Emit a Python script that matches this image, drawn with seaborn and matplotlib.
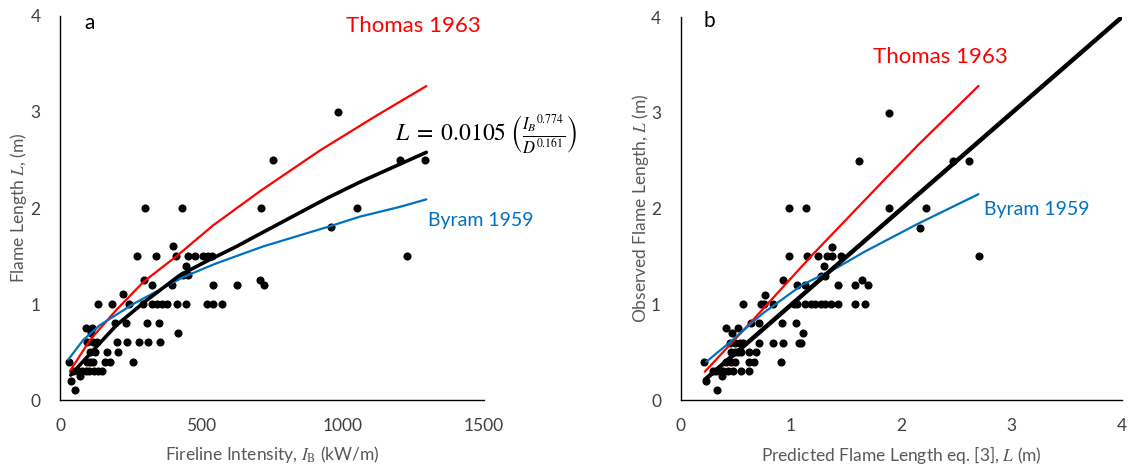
import matplotlib
matplotlib.use('Agg')
import matplotlib.pyplot as plt
import seaborn as sns
import pandas as pd

# ---------------- data ----------------
# Panel a: observed flame length vs fireline intensity
a_obs_x = [32, 40, 54, 71,
           47, 62, 77, 92, 104, 120, 136, 149,
           94, 106, 118, 159, 177, 259,
           106, 124, 165, 206,
           97, 118, 130, 200, 236, 281, 312, 354,
           110, 416,
           92, 112,
           196, 233, 307, 351,
           133, 183, 245, 295, 324, 342, 360, 377, 413, 446, 519, 542, 572,
           224,
           324, 395, 540, 625, 722,
           298, 706,
           436, 454,
           446,
           271, 340, 410, 452, 479, 507, 523, 539, 1228,
           400,
           958,
           301, 433, 710, 1051,
           752, 1203, 1292,
           983]
a_obs_y = [0.4, 0.2, 0.1, 0.25,
           0.3, 0.3, 0.3, 0.3, 0.3, 0.3, 0.3, 0.3,
           0.4, 0.4, 0.4, 0.4, 0.4, 0.4,
           0.5, 0.5, 0.5, 0.5,
           0.6, 0.6, 0.6, 0.6, 0.6, 0.6, 0.6, 0.6,
           0.7, 0.7,
           0.75, 0.75,
           0.8, 0.8, 0.8, 0.8,
           1.0, 1.0, 1.0, 1.0, 1.0, 1.0, 1.0, 1.0, 1.0, 1.0, 1.0, 1.0, 1.0,
           1.1,
           1.2, 1.2, 1.2, 1.2, 1.2,
           1.25, 1.25,
           1.3, 1.3,
           1.4,
           1.5, 1.5, 1.5, 1.5, 1.5, 1.5, 1.5, 1.5, 1.5,
           1.6,
           1.8,
           2.0, 2.0, 2.0, 2.0,
           2.5, 2.5, 2.5,
           3.0]

a_thomas_x = [35, 106, 200, 295, 413, 542, 710, 920, 1124, 1296]
a_thomas_y = [0.30, 0.625, 0.94, 1.23, 1.50, 1.82, 2.18, 2.60, 2.97, 3.27]
a_byram_x = [29, 82, 141, 259, 436, 550, 719, 955, 1061, 1200, 1296]
a_byram_y = [0.42, 0.625, 0.78, 1.0, 1.28, 1.42, 1.60, 1.81, 1.91, 2.01, 2.09]
a_fit_x = [38, 118, 200, 307, 424, 515, 625, 707, 943, 1061, 1296]
a_fit_y = [0.26, 0.52, 0.78, 1.04, 1.30, 1.44, 1.60, 1.73, 2.10, 2.27, 2.58]

# Panel b: observed vs predicted flame length
b_pred_x = [0.21, 0.235, 0.33, 0.38,
            0.295, 0.325, 0.385, 0.43, 0.475, 0.55, 0.62,
            0.415, 0.46, 0.49, 0.625, 0.67, 0.91,
            0.46, 0.49, 0.52, 0.55, 0.625, 0.685,
            0.445, 0.49, 0.535, 0.565, 0.715, 0.84, 0.93, 1.07, 1.09,
            0.47, 1.11,
            0.415, 0.52,
            0.64, 0.715, 0.92, 1.05,
            0.565, 0.73, 0.76, 0.835, 1.03, 1.06, 1.13, 1.18, 1.22, 1.27, 1.31, 1.36, 1.43, 1.58, 1.67,
            0.77,
            1.06, 1.13, 1.43, 1.58, 1.70,
            0.93, 1.64,
            1.27, 1.31,
            1.30,
            0.98, 1.15, 1.25, 1.33, 1.37, 1.45, 2.70,
            1.37,
            2.17,
            0.98, 1.14, 1.89, 2.22,
            1.62, 2.47, 2.61,
            1.89]
b_obs_y = [0.4, 0.2, 0.1, 0.25,
           0.3, 0.3, 0.3, 0.3, 0.3, 0.3, 0.3,
           0.4, 0.4, 0.4, 0.4, 0.4, 0.4,
           0.5, 0.5, 0.5, 0.5, 0.5, 0.5,
           0.6, 0.6, 0.6, 0.6, 0.6, 0.6, 0.6, 0.6, 0.6,
           0.7, 0.7,
           0.75, 0.75,
           0.8, 0.8, 0.8, 0.8,
           1.0, 1.0, 1.0, 1.0, 1.0, 1.0, 1.0, 1.0, 1.0, 1.0, 1.0, 1.0, 1.0, 1.0, 1.0,
           1.1,
           1.2, 1.2, 1.2, 1.2, 1.2,
           1.25, 1.25,
           1.3, 1.3,
           1.4,
           1.5, 1.5, 1.5, 1.5, 1.5, 1.5, 1.5,
           1.6,
           1.8,
           2.0, 2.0, 2.0, 2.0,
           2.5, 2.5, 2.5,
           3.0]

b_thomas_x = [0.22, 0.64, 1.19, 1.88, 2.15, 2.70]
b_thomas_y = [0.295, 0.815, 1.51, 2.34, 2.66, 3.28]
b_byram_x = [0.235, 0.47, 0.74, 1.10, 1.43, 1.67, 2.15, 2.70]
b_byram_y = [0.40, 0.625, 0.90, 1.20, 1.39, 1.55, 1.84, 2.15]
b_fit_x = [0.22, 4.0]
b_fit_y = [0.21, 4.0]

a_xticks = [0, 500, 1000, 1500]
b_xticks = [0, 1, 2, 3, 4]
yticks = [0, 1, 2, 3, 4]

# ---------------- style ----------------
sns.set_style('white')
plt.rcParams['font.family'] = ['Lato', 'DejaVu Sans']
plt.rcParams['mathtext.fontset'] = 'stix'

RED = '#FF0000'
BLUE = '#0070C0'
TICK_C = '#404040'
LAB_C = '#595959'

fig = plt.figure(figsize=(11.28, 4.65), dpi=100)
axa = fig.add_axes([60 / 1128, 1 - 400 / 465, 424 / 1128, 384 / 465])
axb = fig.add_axes([680.5 / 1128, 1 - 400 / 465, 441.5 / 1128, 383 / 465])

# panel a
sns.scatterplot(x=a_obs_x, y=a_obs_y, ax=axa, color='black', s=34, linewidth=0, zorder=3)
sns.lineplot(x=a_thomas_x, y=a_thomas_y, ax=axa, color=RED, lw=1.6, sort=False, estimator=None, zorder=4)
sns.lineplot(x=a_byram_x, y=a_byram_y, ax=axa, color=BLUE, lw=1.6, sort=False, estimator=None, zorder=4)
sns.lineplot(x=a_fit_x, y=a_fit_y, ax=axa, color='black', lw=2.6, sort=False, estimator=None, zorder=5)

# panel b
sns.scatterplot(x=b_pred_x, y=b_obs_y, ax=axb, color='black', s=34, linewidth=0, zorder=3)
sns.lineplot(x=b_thomas_x, y=b_thomas_y, ax=axb, color=RED, lw=1.6, sort=False, estimator=None, zorder=4)
sns.lineplot(x=b_byram_x, y=b_byram_y, ax=axb, color=BLUE, lw=1.6, sort=False, estimator=None, zorder=4)
sns.lineplot(x=b_fit_x, y=b_fit_y, ax=axb, color='black', lw=3.2, sort=False, estimator=None, zorder=5)

for ax, xt, xmax in [(axa, a_xticks, 1500), (axb, b_xticks, 4)]:
    ax.set_xlim(0, xmax)
    ax.set_ylim(0, 4)
    ax.set_xticks(xt)
    ax.set_yticks(yticks)
    ax.set_xticklabels([str(v) for v in xt])
    ax.set_yticklabels([str(v) for v in yticks])
    for s in ['top', 'right']:
        ax.spines[s].set_visible(False)
    for s in ['left', 'bottom']:
        ax.spines[s].set_color('black')
        ax.spines[s].set_linewidth(1.0)
    ax.tick_params(axis='both', length=0, labelsize=12.5, colors=TICK_C)
    ax.tick_params(axis='x', pad=13)
    ax.tick_params(axis='y', pad=14)
    ax.grid(False)

axa.set_xlabel(r'Fireline Intensity, $I_\mathrm{B}$ (kW/m)', fontsize=12.5, color=LAB_C, labelpad=7)
axa.set_ylabel(r'Flame Length $L$, (m)', fontsize=12.5, color=LAB_C, labelpad=1)
axb.set_xlabel(r'Predicted Flame Length eq. [3], $L$ (m)', fontsize=12.5, color=LAB_C, labelpad=7)
axb.set_ylabel(r'Observed Flame Length, $L$ (m)', fontsize=12.5, color=LAB_C, labelpad=0)

# annotations
axa.text(103, 3.93, 'a', fontsize=15, color='black', ha='center', va='center')
axb.text(0.26, 3.96, 'b', fontsize=15, color='black', ha='center', va='center')
axa.text(1249, 3.9, 'Thomas 1963', fontsize=16, color=RED, ha='center', va='center')
axa.text(1489, 1.875, 'Byram 1959', fontsize=14, color=BLUE, ha='center', va='center')
axa.text(1185, 2.77, r'$L\;=\;0.0105\;\left(\frac{{I_B}^{0.774}}{D^{0.161}}\right)$',
         fontsize=17, color='black', ha='left', va='center')
axb.text(2.356, 3.58, 'Thomas 1963', fontsize=16, color=RED, ha='center', va='center')
axb.text(3.227, 1.99, 'Byram 1959', fontsize=14, color=BLUE, ha='center', va='center')

fig.savefig('out.png', dpi=100)
